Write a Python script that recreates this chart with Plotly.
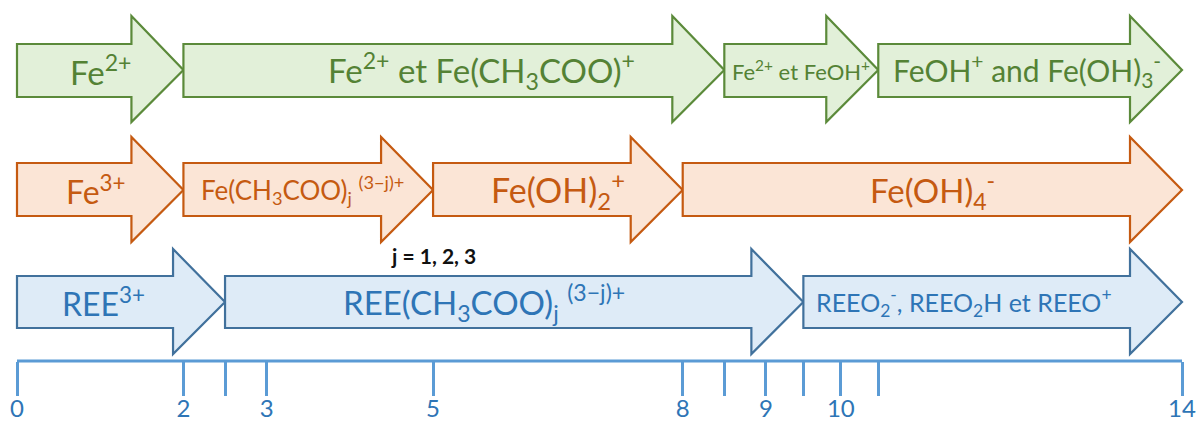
import plotly.graph_objects as go

# ---------------- data (pH boundaries of each species domain) ----------------
green_labels = ["Fe<sup>2+</sup>",
                "Fe<sup>2+</sup> et Fe(CH<sub>3</sub>COO)<sup>+</sup>",
                "Fe<sup>2+</sup> et FeOH<sup>+</sup>",
                "FeOH<sup>+</sup> and Fe(OH)<sub>3</sub><sup>-</sup>"]
green_start = [0, 2, 8.5, 10.35]
green_end = [2, 8.5, 10.35, 14]

orange_labels = ["Fe<sup>3+</sup>",
                 "Fe(CH<sub>3</sub>COO)<sub>j</sub> <sup>(3\u2212j)+</sup>",
                 "Fe(OH)<sub>2</sub><sup>+</sup>",
                 "Fe(OH)<sub>4</sub><sup>-</sup>"]
orange_start = [0, 2, 5, 8]
orange_end = [2, 5, 8, 14]

blue_labels = ["REE<sup>3+</sup>",
               "REE(CH<sub>3</sub>COO)<sub>j</sub> <sup>(3\u2212j)+</sup>",
               "REEO<sub>2</sub><sup>-</sup>, REEO<sub>2</sub>H et REEO<sup>+</sup>"]
blue_start = [0, 2.5, 9.45]
blue_end = [2.5, 9.45, 14]

tick_vals = [0, 2, 2.5, 3, 5, 8, 8.5, 9, 9.45, 9.9, 10.35, 14]
tick_text = ["0", "2", "", "3", "5", "8", "", "9", "", "10", "", "14"]

note_text = "j = 1, 2, 3"
note_ph = 5

# ---------------- layout / style ----------------
W, H = 1196, 423
PX0, PX14 = 17, 1182
PXU = (PX14 - PX0) / 14.0
FONT = "Lato"

rows = [
    dict(labels=green_labels, start=green_start, end=green_end,
         fill="#E2F0D9", line="#5B8A3A", text="#548235",
         bt=44, bb=97, ht=16, hb=122, mid=70,
         sizes=[33, 33, 22, 30], dx=[0, 28, 0, -3]),
    dict(labels=orange_labels, start=orange_start, end=orange_end,
         fill="#FBE5D6", line="#C55A11", text="#C55A11",
         bt=163, bb=216, ht=137, hb=242, mid=190,
         sizes=[32, 26, 34, 33], dx=[-4, -6, 0, 0]),
    dict(labels=blue_labels, start=blue_start, end=blue_end,
         fill="#DEEBF7", line="#41719C", text="#2E75B6",
         bt=276, bb=328, ht=249, hb=354, mid=302,
         sizes=[32, 33, 25], dx=[-18, -30, -29]),
]
HEAD = 52 / PXU  # arrow head length in pH units

fig = go.Figure()
shapes = []
annotations = []

for r in rows:
    for i, (lab, s, e) in enumerate(zip(r["labels"], r["start"], r["end"])):
        xh = e - HEAD
        path = (f"M {s},{r['bt']} L {xh},{r['bt']} L {xh},{r['ht']} L {e},{r['mid']} "
                f"L {xh},{r['hb']} L {xh},{r['bb']} L {s},{r['bb']} Z")
        shapes.append(dict(type="path", xref="x", yref="y", path=path,
                           fillcolor=r["fill"], line=dict(color=r["line"], width=2.2),
                           layer="below"))
        cx = (s + e) / 2 + r["dx"][i] / PXU
        annotations.append(dict(x=cx, y=r["mid"], xref="x", yref="y", text=lab,
                                showarrow=False, xanchor="center", yanchor="middle",
                                font=dict(family=FONT, size=r["sizes"][i], color=r["text"])))

annotations.append(dict(x=note_ph, y=255, xref="x", yref="y", text=f"<b>{note_text}</b>",
                        showarrow=False, xanchor="center", yanchor="middle",
                        font=dict(family=FONT, size=21, color="#111111")))

# axis baseline
AXY = 361
shapes.append(dict(type="line", xref="x", yref="y", x0=min(tick_vals), x1=max(tick_vals),
                   y0=AXY, y1=AXY, line=dict(color="#5B9BD5", width=3)))

# invisible trace to establish axes
fig.add_trace(go.Scatter(x=[min(tick_vals), max(tick_vals)], y=[AXY, AXY], mode="markers",
                         marker=dict(opacity=0), hoverinfo="skip", showlegend=False))

fig.update_layout(
    width=W, height=H,
    margin=dict(l=0, r=0, t=0, b=0),
    paper_bgcolor="white", plot_bgcolor="white",
    shapes=shapes, annotations=annotations,
    xaxis=dict(range=[-PX0 / PXU, (W - PX0) / PXU], anchor="free", position=(H - AXY) / H,
               tickmode="array", tickvals=tick_vals, ticktext=tick_text,
               ticks="outside", ticklen=34, tickwidth=2.5, tickcolor="#5B9BD5",
               ticklabelstandoff=-8,
               showline=False, showgrid=False, zeroline=False, automargin=False,
               tickfont=dict(family=FONT, size=24, color="#2E75B6")),
    yaxis=dict(range=[H, 0], visible=False, domain=[0, 1]),
)

fig.write_html("out.html", config={"displayModeBar": False},
               post_script="document.body.style.margin='0';document.body.style.overflow='hidden';")
